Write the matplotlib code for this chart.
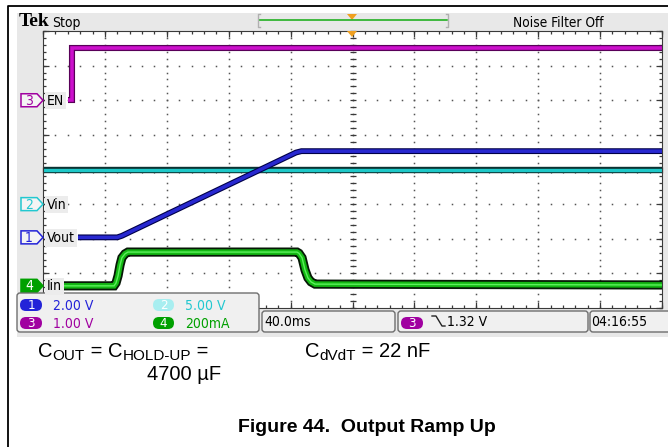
import matplotlib.pyplot as plt
import matplotlib.patches as mpatches
import numpy as np

# scope settings: time base and per-channel scale / ground marker (divisions from centre)
TIME_PER_DIV = 40.0  # ms
CH_SCALE = {"EN": 1.0, "Vin": 5.0, "Vout": 2.0, "Iin": 200.0}
CH_OFFSET = {"EN": 2.0, "Vin": -1.0, "Vout": -1.96, "Iin": -3.36}

# waveforms, time in ms from the left edge of the screen
en_t = [16.2, 18.7, 18.7, 400.0]
en_v = [0.0, 0.0, 1.52, 1.52]

vin_t = [0.0, 400.0]
vin_v = [5.0, 5.0]

vout_t = [22.6, 48.0, 51.0, 163.5, 167.0, 400.0]
vout_v = [0.0, 0.0, 0.09, 4.90, 4.98, 4.98]

iin_t = [12.9, 45.9, 47.2, 48.5, 49.8, 51.0, 53.0, 54.9,
         164.1, 165.4, 167.4, 169.3, 171.2, 173.2, 175.8, 400.0]
iin_ma = [0, 0, 17, 58, 121, 162, 185, 195,
          195, 188, 162, 92, 46, 23, 10, 5]

readout_left = [("1", "2.00 V"), ("3", "1.00 V")]
readout_right = [("2", "5.00 V"), ("4", "200mA")]
timebase_label = "40.0ms"
trigger_label = "1.32 V"
clock_label = "04:16:55"

UI = dict(family="DejaVu Sans", stretch="condensed")
SANS = ["Liberation Sans", "DejaVu Sans"]

COL = {
    "1": "#2323d8", "2": "#22c8d0", "3": "#a000a0", "4": "#00a000",
}

W, H = 668, 447
fig = plt.figure(figsize=(W / 100, H / 100), dpi=100)
renderer = fig.canvas.get_renderer()

bg = fig.add_axes([0, 0, 1, 1], zorder=0)
fg = fig.add_axes([0, 0, 1, 1], zorder=2)
for a in (bg, fg):
    a.set_xlim(0, W)
    a.set_ylim(H, 0)
    a.axis("off")

GX0, GX1, GY0, GY1 = 43, 662, 31, 308
ax = fig.add_axes([GX0 / W, 1 - GY1 / H, (GX1 - GX0) / W, (GY1 - GY0) / H], zorder=1)
ax.set_xlim(0, 10)
ax.set_ylim(-4, 4)
ax.set_xticks([])
ax.set_yticks([])
for s in ax.spines.values():
    s.set_color("#3a3a3a")
    s.set_linewidth(0.8)

# ---- screen background and header
bg.plot([8, 8, W + 5], [H + 5, 6, 6], color="black", lw=1.3, clip_on=False)
bg.add_patch(mpatches.Rectangle((17, 13), W - 17, 324, fc="#e8e8e8", ec="none"))
bg.text(19, 26, "Tek", family="Liberation Serif", weight="bold", size=14, va="baseline")
bg.text(52, 26.5, "Stop", size=10, va="baseline", **UI)
bg.text(513, 27, "Noise Filter Off", size=9.8, va="baseline", **UI)
bg.plot([259, 447], [20, 20], color="#22b022", lw=1.2)
bg.plot([260, 258, 258, 260], [14, 14, 27, 27], color="#b0b0b0", lw=1)
bg.plot([446, 448, 448, 446], [14, 14, 27, 27], color="#b0b0b0", lw=1)
bg.add_patch(mpatches.Polygon([(347, 14), (357, 14), (352, 20)], fc="#f0a020", ec="none"))

# ---- graticule
ys = np.arange(-4, 4.001, 0.2)
xs = np.arange(0, 10.001, 0.2)
dot = dict(ls="none", marker="s", ms=1.1, color="#555555", mew=0)
for gx in range(1, 10):
    ax.plot(np.full(ys.size, gx), ys, **dot)
for gy in range(-3, 4):
    ax.plot(xs, np.full(xs.size, gy), **dot)
tick = dict(ls="none", color="#3a3a3a", mew=0.9, clip_on=False)
ax.plot(np.full(ys.size, 5), ys, marker="_", ms=4, **tick)
ax.plot(xs, np.zeros(xs.size), marker="|", ms=4, **tick)
ax.plot(np.zeros(ys.size), ys, marker=1, ms=2.5, **tick)
ax.plot(np.full(ys.size, 10), ys, marker=0, ms=2.5, **tick)
ax.plot(xs, np.full(xs.size, 4), marker=3, ms=2.5, **tick)
ax.plot(xs, np.full(xs.size, -4), marker=2, ms=2.5, **tick)
maj_y = np.arange(-4, 5)
maj_x = np.arange(0, 11)
ax.plot(np.zeros(maj_y.size), maj_y, marker=1, ms=4.5, **tick)
ax.plot(np.full(maj_y.size, 10), maj_y, marker=0, ms=4.5, **tick)
ax.plot(maj_x, np.full(maj_x.size, 4), marker=3, ms=4.5, **tick)
ax.plot(maj_x, np.full(maj_x.size, -4), marker=2, ms=4.5, **tick)


def to_div(t, v, ch):
    return np.asarray(t) / TIME_PER_DIV, np.asarray(v) / CH_SCALE[ch] + CH_OFFSET[ch]


def trace(t, v, ch, layers):
    x, y = to_div(t, v, ch)
    for color, lw in layers:
        ax.plot(x, y, color=color, lw=lw, solid_joinstyle="miter", solid_capstyle="butt")


trace(vin_t, vin_v, "Vin", [("#0b3232", 4.6), ("#1ec8c8", 2.4)])
trace(iin_t, iin_ma, "Iin", [("#061806", 6.6), ("#13b813", 4.0), ("#5cf05c", 1.0)])
trace(vout_t, vout_v, "Vout", [("#000048", 4.2), ("#2828d0", 2.6)])
trace(en_t, en_v, "EN", [("#580058", 4.4), ("#cc10cc", 2.6)])

# ---- foreground decorations (channel markers, readouts)
fg.add_patch(mpatches.Polygon([(347, 31), (357, 31), (352, 37)], fc="#f0a020", ec="none"))


def ground_px(ch):
    disp = ax.transData.transform((0, CH_OFFSET[ch]))
    return fg.transData.inverted().transform(disp)[1]


markers = [("3", "EN", False), ("2", "Vin", False), ("1", "Vout", False), ("4", "Iin", True)]
for num, name, filled in markers:
    yc = ground_px(name)
    col = COL[num]
    pts = [(21, yc - 6.5), (37, yc - 6.5), (43, yc), (37, yc + 6.5), (21, yc + 6.5)]
    fg.add_patch(mpatches.Polygon(pts, fc=col if filled else "#f4f4f4", ec=col, lw=1.1))
    fg.text(29, yc + 0.5, num, size=10, color="white" if filled else col,
            ha="center", va="center", **UI)
    fg.text(47, yc + 0.5, name, size=10, va="center",
            bbox=dict(boxstyle="square,pad=0.12", fc="#ececec", ec="none"), **UI)


def pill(x0, yc, w, color, label):
    fg.add_patch(mpatches.FancyBboxPatch((x0, yc - 6), w, 12, boxstyle="round,pad=0,rounding_size=6",
                                         fc=color, ec="none"))
    fg.text(x0 + w / 2, yc + 0.5, label, size=9.5, color="white", ha="center", va="center", **UI)


def box(x0, x1, y0, y1):
    fg.add_patch(mpatches.FancyBboxPatch((x0, y0), x1 - x0, y1 - y0,
                                         boxstyle="round,pad=0,rounding_size=3",
                                         fc="#f0f0f0", ec="#6e6e6e", lw=1))


box(17, 259, 293, 332)
for (num, txt), yc in zip(readout_left, [305, 323]):
    pill(20, yc, 22, COL[num], num)
    fg.text(53, yc + 0.5, txt, size=10, color=COL[num], va="center", **UI)
pale = {"2": "#a8eef0", "4": "#00a000"}
for (num, txt), yc in zip(readout_right, [305, 323]):
    pill(153, yc, 21, pale[num], num)
    fg.text(185, yc + 0.5, txt, size=10, color=COL[num], va="center", **UI)

box(262, 395, 311, 332)
fg.text(264, 322, timebase_label, size=10, va="center", **UI)
box(398, 588, 311, 332)
pill(401, 323, 22, COL["3"], "3")
fg.plot([432, 436, 442, 445], [316, 316, 326, 326], color="#222222", lw=1)
fg.text(447, 322, trigger_label, size=10, va="center", **UI)
box(590, W + 10, 311, 332)
fg.text(591, 322, clock_label, size=10, va="center", **UI)


# ---- caption text (main text with subscripts placed piece by piece)
def rich(x, y, parts):
    for s, size, dy in parts:
        t = fg.text(x, y + dy, s, family=SANS, size=size, va="baseline")
        x += t.get_window_extent(renderer).width


BIG, SUB, DROP = 14.5, 11, 3.5
rich(38, 357, [("C", BIG, 0), ("OUT", SUB, DROP), (" = C", BIG, 0), ("HOLD-UP", SUB, DROP), (" =", BIG, 0)])
fg.text(221, 380, "4700 µF", family=SANS, size=BIG, ha="right", va="baseline")
rich(305, 357, [("C", BIG, 0), ("dVdT", SUB, DROP), (" = 22 nF", BIG, 0)])
fg.text(367, 432, "Figure 44.  Output Ramp Up", family=SANS, weight="bold", size=14,
        ha="center", va="baseline")

fig.savefig("out.png", dpi=100)
